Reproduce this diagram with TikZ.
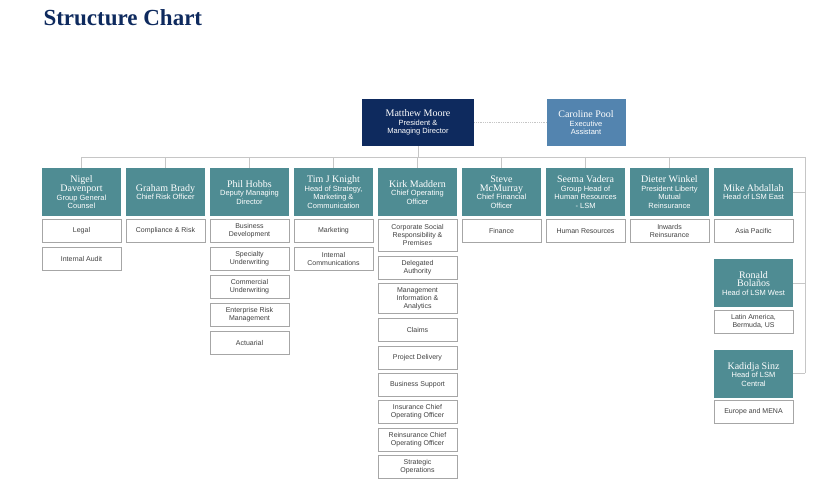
\documentclass[tikz,border=0pt]{standalone}
\usepackage{fontspec}
\setmainfont{Liberation Sans}
\newfontfamily\serifn{Liberation Serif}
\newfontfamily\sansn{Liberation Sans}
\newcommand{\nm}[1]{\serifn\fontsize{10}{11}\selectfont #1\\\sansn\fontsize{7.5}{8.5}\selectfont}
\definecolor{teal0}{HTML}{4F8C93}
\definecolor{navy0}{HTML}{0E2A5E}
\definecolor{blue0}{HTML}{5384AF}
\begin{document}
\begin{tikzpicture}[x=1pt,y=-1pt,
 hd/.style={fill=teal0,text=white,minimum width=79pt,minimum height=48pt,inner sep=1pt,align=center,anchor=north,font=\fontsize{7.5}{8.5}\selectfont},
 sb/.style={draw=gray!70,line width=0.8pt,text=black!75,minimum width=79pt,minimum height=23pt,inner sep=1pt,align=center,anchor=north,font=\fontsize{7}{8}\selectfont},
 ln/.style={draw=gray!45,line width=0.8pt}]
\useasboundingbox (0,0) rectangle (832,481);
\node[anchor=west,font=\serifn\bfseries\fontsize{23}{26}\selectfont,text=navy0] (title) at (40,18) {Structure Chart};
\node[hd,fill=navy0,minimum width=112pt,minimum height=47pt] (mm) at (418,99) {\nm{Matthew Moore}President \&\\Managing Director};
\node[hd,fill=blue0,minimum height=47pt] (cp) at (586,99) {\nm{Caroline Pool}Executive\\Assistant};
\draw[ln,densely dotted] (mm.east) -- (cp.west);
\node[hd] (h1) at (81.5,168) {\nm{Nigel}\serifn\fontsize{10}{11}\selectfont Davenport\\\sansn\fontsize{7.5}{8.5}\selectfont Group General\\Counsel};
\node[hd] (h2) at (165.5,168) {\nm{Graham Brady}Chief Risk Officer};
\node[hd] (h3) at (249.5,168) {\nm{Phil Hobbs}Deputy Managing\\Director};
\node[hd] (h4) at (333.5,168) {\nm{Tim J Knight}Head of Strategy,\\Marketing \&\\Communication};
\node[hd] (h5) at (417.5,168) {\nm{Kirk Maddern}Chief Operating\\Officer};
\node[hd] (h6) at (501.5,168) {\nm{Steve}\serifn\fontsize{10}{11}\selectfont McMurray\\\sansn\fontsize{7.5}{8.5}\selectfont Chief Financial\\Officer};
\node[hd] (h7) at (585.5,168) {\nm{Seema Vadera}Group Head of\\Human Resources\\- LSM};
\node[hd] (h8) at (669.5,168) {\nm{Dieter Winkel}President Liberty\\Mutual\\Reinsurance};
\node[hd] (h9) at (753.5,168) {\nm{Mike Abdallah}Head of LSM East};
\node[hd] (h10) at (753.5,259) {\nm{Ronald}\serifn\fontsize{10}{11}\selectfont Bolaños\\\sansn\fontsize{7.5}{8.5}\selectfont Head of LSM West};
\node[hd] (h11) at (753.5,350) {\nm{Kadidja Sinz}Head of LSM\\Central};
\coordinate (bus) at (418,157);
\draw[ln] (mm.south) -- (bus);
\coordinate (re) at (805,157);
\draw[ln] (h1.north) |- (re);
\foreach \h in {h2,h3,h4,h5,h6,h7,h8}{\draw[ln] (\h.north) -- (\h.north |- bus);}
\coordinate (rb) at (805,373);
\draw[ln] (re) -- (rb);
\draw[ln] (h9.east) -- (h9.east -| re);
\draw[ln] (h10.east) -- (h10.east -| re);
\draw[ln] (rb) -- (rb -| h11.east);
\node[sb] (s11) at (81.5,219) {Legal};
\node[sb] (s12) at (81.5,247) {Internal Audit};
\node[sb] (s21) at (165.5,219) {Compliance \& Risk};
\node[sb] (s31) at (249.5,219) {Business\\Development};
\node[sb] (s32) at (249.5,247) {Specialty\\Underwriting};
\node[sb] (s33) at (249.5,275) {Commercial\\Underwriting};
\node[sb] (s34) at (249.5,303) {Enterprise Risk\\Management};
\node[sb] (s35) at (249.5,331) {Actuarial};
\node[sb] (s41) at (333.5,219) {Marketing};
\node[sb] (s42) at (333.5,247) {Internal\\Communications};
\node[sb,minimum height=32pt] (s51) at (417.5,219) {Corporate Social\\Responsibility \&\\Premises};
\node[sb] (s52) at (417.5,256) {Delegated\\Authority};
\node[sb,minimum height=30pt] (s53) at (417.5,283) {Management\\Information \&\\Analytics};
\node[sb] (s54) at (417.5,318) {Claims};
\node[sb] (s55) at (417.5,346) {Project Delivery};
\node[sb] (s56) at (417.5,373) {Business Support};
\node[sb] (s57) at (417.5,400) {Insurance Chief\\Operating Officer};
\node[sb] (s58) at (417.5,428) {Reinsurance Chief\\Operating Officer};
\node[sb] (s59) at (417.5,455) {Strategic\\Operations};
\node[sb] (s61) at (501.5,219) {Finance};
\node[sb] (s71) at (585.5,219) {Human Resources};
\node[sb] (s81) at (669.5,219) {Inwards\\Reinsurance};
\node[sb] (s91) at (753.5,219) {Asia Pacific};
\node[sb] (s101) at (753.5,310) {Latin America,\\Bermuda, US};
\node[sb] (s111) at (753.5,400) {Europe and MENA};
\end{tikzpicture}
\end{document}
